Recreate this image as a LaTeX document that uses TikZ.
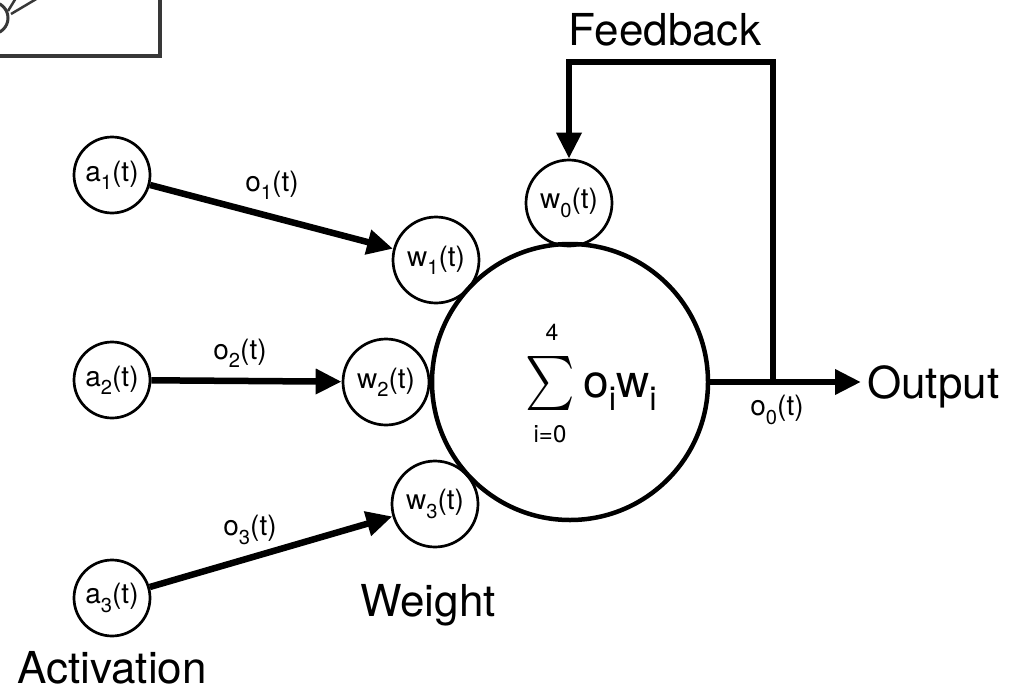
\documentclass[tikz,border=0pt]{standalone}
\usepackage{fontspec}
\setmainfont{TeX Gyre Heros}
\usepackage{graphicx}
\usetikzlibrary{arrows.meta}
\newcommand\lsub[1]{\raisebox{-0.3em}{\scalebox{0.72}{#1}}}
\begin{document}
\begin{tikzpicture}[x=1pt,y=-1pt,
  sml/.style={circle,draw,line width=2.7pt,minimum size=76pt,inner sep=0pt,font=\fontsize{28}{30}\selectfont},
  wgt/.style={sml,minimum size=86pt},
  sumc/.style={circle,draw,line width=4.5pt,minimum size=276pt,inner sep=0pt},
  conn/.style={line width=6.5pt,-{Triangle[length=26pt,width=24pt]}},
  lbl/.style={inner sep=0pt,font=\fontsize{28}{30}\selectfont},
  big/.style={inner sep=0pt,font=\fontsize{44}{50}\selectfont},
  frag/.style={line width=3.5pt,draw=black!78}]
\useasboundingbox (0,0) rectangle (1019,693);
% cropped fragment of another figure, top left
\begin{scope}
  \clip (0,0) rectangle (1019,693);
  \draw[frag] (-20,-20) rectangle (160,56);
  \draw[frag,line width=3pt] (-8,18) circle (16);
  \draw[frag,line width=2.5pt] (8,11) -- (16,-2);
  \draw[frag,line width=2.5pt] (11,14) -- (38,-2);
\end{scope}
% nodes
\node[sml] (a1) at (112,175) {a\lsub{1}(t)};
\node[sml] (a2) at (112,380) {a\lsub{2}(t)};
\node[sml] (a3) at (112,598) {a\lsub{3}(t)};
\node[sumc] (S) at (570,382) {};
\node[wgt] (w1) at (436,260) {w\lsub{1}(t)};
\node[wgt] (w2) at (386,382) {w\lsub{2}(t)};
\node[wgt] (w3) at (435,504) {w\lsub{3}(t)};
\node[wgt] (w0) at (569,203) {w\lsub{0}(t)};
% sum formula
\node[inner sep=0pt] (sig) at (550,383) {\fontsize{10}{12}\selectfont\scalebox{4.7}[5.4]{$\sum$}};
\node[inner sep=0pt,font=\fontsize{23}{25}\selectfont] (up) at (552,332) {4};
\node[inner sep=0pt,font=\fontsize{24}{26}\selectfont] (lo) at (550,434) {i=0};
\node[anchor=base west,inner sep=0pt,font=\fontsize{46}{50}\selectfont] (ow) at (583,397) {o\lsub{i}w\lsub{i}};
% connectors
\draw[conn] (a1) -- (w1);
\draw[conn] (a2) -- (w2);
\draw[conn] (a3) -- (w3);
\node[lbl] (o1) at (272,185) {o\lsub{1}(t)};
\node[lbl] (o2) at (240,353) {o\lsub{2}(t)};
\node[lbl] (o3) at (250,530) {o\lsub{3}(t)};
% output
\node[big,anchor=base west,inner xsep=6pt] (out) at (861,398) {Output};
\draw[conn] (S.east) -- (S.east -| out.west);
\node[lbl] (o0) at (777,410) {o\lsub{0}(t)};
% feedback
\coordinate (fb) at (773,382);
\coordinate (fbr) at (773,62);
\coordinate (fbl) at (569,62);
\draw[conn] (fb) -- (fbr) -- (fbl) -- (w0);
\node[big] (fbt) at (665,30) {Feedback};
% captions
\node[big] (wt) at (428,605) {Weight};
\node[big] (act) at (112,668) {Activation};
\end{tikzpicture}
\end{document}
